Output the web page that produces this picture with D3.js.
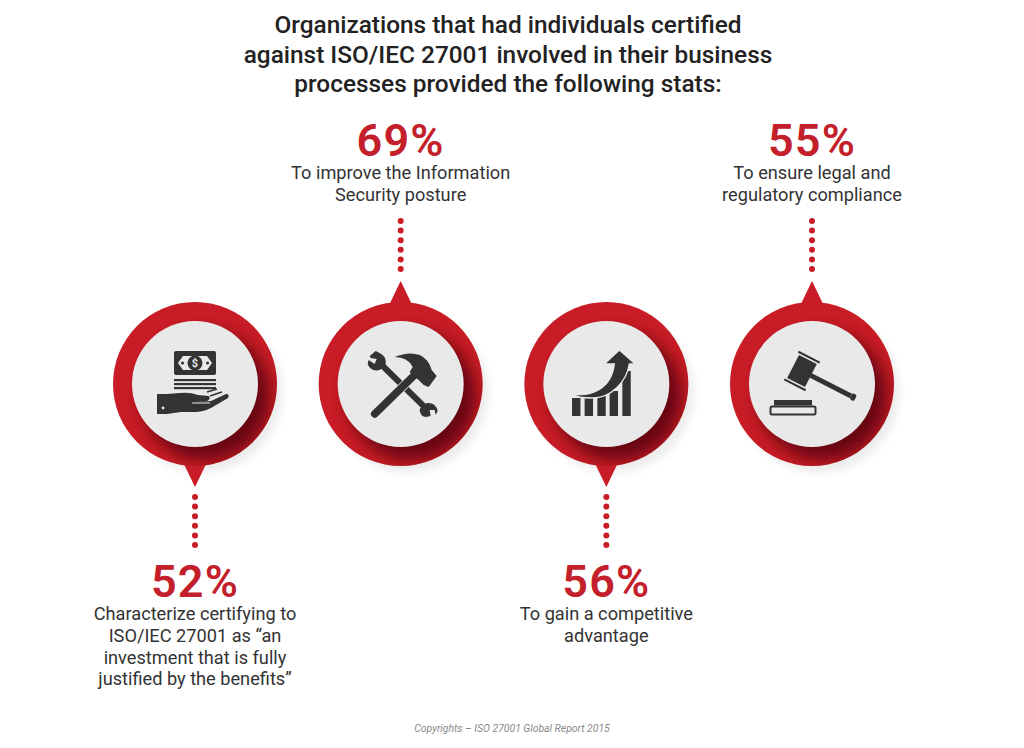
<!DOCTYPE html>
<html>
<head>
<meta charset="utf-8">
<title>ISO/IEC 27001 stats</title>
<script src="https://cdn.jsdelivr.net/npm/d3@7/dist/d3.min.js"></script>
<style>
  html, body { margin: 0; padding: 0; background: #fff; }
  svg { display: block; }
  text { font-family: Roboto, sans-serif; }
</style>
</head>
<body>
<div id="chart"></div>
<script>
// values
var titleLines = [
  "Organizations that had individuals certified",
  "against ISO/IEC 27001 involved in their business",
  "processes provided the following stats:"
];
var categories = ["money", "tools", "growth", "law"];
var percents = [52, 69, 56, 55];
var placement = ["below", "above", "below", "above"];
var labels = [
  ["Characterize certifying to", "ISO/IEC 27001 as \u201can", "investment that is fully", "justified by the benefits\u201d"],
  ["To improve the Information", "Security posture"],
  ["To gain a competitive", "advantage"],
  ["To ensure legal and", "regulatory compliance"]
];
var credit = "Copyrights \u2013 ISO 27001 Global Report 2015";

var width = 1024, height = 748;
var red = "#c81c26", textRed = "#c3202b", dark = "#333333", disc = "#e9e9e9";
var ringR = 82, discR = 63, midY = 384;

var x = d3.scalePoint().domain(categories).range([195, 812]);
var dotIndex = d3.range(6);

var svg = d3.select("#chart").append("svg")
  .attr("width", width)
  .attr("height", height);

var defs = svg.append("defs");
defs.append("filter").attr("id", "blurBig")
  .attr("x", "-30%").attr("y", "-30%").attr("width", "160%").attr("height", "160%")
  .append("feGaussianBlur").attr("stdDeviation", 8);
defs.append("filter").attr("id", "blurSoft")
  .attr("x", "-30%").attr("y", "-30%").attr("width", "160%").attr("height", "160%")
  .append("feGaussianBlur").attr("stdDeviation", 5);
defs.append("clipPath").attr("id", "ringClip")
  .append("circle").attr("r", ringR);

// title
svg.append("g").selectAll("text")
  .data(titleLines)
  .enter().append("text")
  .attr("x", 508)
  .attr("y", function(d, i) { return 33 + i * 29.5; })
  .attr("text-anchor", "middle")
  .attr("font-size", 24.4)
  .attr("font-weight", 500)
  .attr("fill", "#222")
  .text(function(d) { return d; });

var rows = categories.map(function(c, i) {
  return { name: c, percent: percents[i], side: placement[i], label: labels[i] };
});

var stat = svg.selectAll(".stat")
  .data(rows)
  .enter().append("g")
  .attr("class", "stat")
  .attr("transform", function(d) { return "translate(" + x(d.name) + "," + midY + ")"; });

// soft shadow outside the ring
stat.append("circle")
  .attr("cx", 7).attr("cy", 8).attr("r", ringR - 2)
  .attr("fill", "#000").attr("opacity", 0.08)
  .attr("filter", "url(#blurSoft)");

// pointer
stat.append("path")
  .attr("d", function(d) {
    return d.side == "above" ? "M-12,-78 L-1,-101 L0,-103 L1,-101 L12,-78 Z" : "M-12,78 L-1,101 L0,103 L1,101 L12,78 Z";
  })
  .attr("fill", red);

// ring
stat.append("circle").attr("r", ringR).attr("fill", red);

// dark crescent under the disc
stat.append("g").attr("clip-path", "url(#ringClip)")
  .append("circle")
  .attr("cx", 11).attr("cy", 12).attr("r", discR + 1)
  .attr("fill", "#4f0507").attr("opacity", 0.8)
  .attr("filter", "url(#blurBig)");

stat.append("circle").attr("r", discR).attr("fill", disc);

// dotted connector
stat.selectAll(".dot")
  .data(function(d) {
    return dotIndex.map(function(k) { return { k: k, side: d.side }; });
  })
  .enter().append("circle")
  .attr("class", "dot")
  .attr("cy", function(d) {
    return d.side == "above" ? -115 - d.k * 9.6 : 113 + d.k * 9.6;
  })
  .attr("r", 3)
  .attr("fill", red);

// icons, drawn around the disc centre
var icons = {
  money: function(g) {
    g.append("rect").attr("x", -21).attr("y", -33).attr("width", 42).attr("height", 24).attr("rx", 2).attr("fill", dark);
    g.append("path").attr("d", "M-17,-21 L-12,-28 L12,-28 L17,-21 L12,-14 L-12,-14 Z").attr("fill", disc);
    g.append("circle").attr("cy", -21).attr("r", 7.5).attr("fill", dark);
    g.append("circle").attr("cx", -12.5).attr("cy", -21).attr("r", 1.6).attr("fill", dark);
    g.append("circle").attr("cx", 12.5).attr("cy", -21).attr("r", 1.6).attr("fill", dark);
    g.append("text").attr("y", -17).attr("text-anchor", "middle").attr("font-size", 11).attr("font-weight", 700).attr("fill", disc).text("$");
    [-5, -1, 3].forEach(function(y) {
      g.append("rect").attr("x", -21).attr("y", y).attr("width", 42).attr("height", 2.2).attr("fill", dark);
    });
    g.append("path")
      .attr("d", "M-38,10 L-28,10 L-15,9 Q-5,8 3,11 L14,12 Q16,15 12,17 L-2,18 L16,17 L31,10 Q35,10 33,14 L16,24 Q8,28 0,28 L-14,28 L-28,30 L-38,30 Q-38,20 -38,10 Z")
      .attr("fill", dark);
    g.append("path").attr("d", "M-3,19 L15,19").attr("stroke", disc).attr("stroke-width", 1).attr("fill", "none");
    g.append("path").attr("d", "M12,8 L22,5 M15,12 L27,8").attr("stroke", dark).attr("stroke-width", 1.6).attr("fill", "none");
    g.append("circle").attr("cx", -32).attr("cy", 24).attr("r", 1.4).attr("fill", disc);
  },
  tools: function(g) {
    // wrench
    g.append("path").attr("d", "M-23,-23 L28,27").attr("stroke", dark).attr("stroke-width", 6).attr("fill", "none");
    g.append("path")
      .attr("d", "M-25,-33 L-31,-28 L-30,-26 L-24,-25 L-26,-20 L-32,-24 L-33,-20 Q-30,-12 -21,-14 L-15,-19 Q-14,-28 -21,-31 Z")
      .attr("fill", dark);
    g.append("path")
      .attr("d", "M25,33 L30,32 L29,26 L34,26 L35,31 L37,27 Q35,18 26,19 L19,25 Q19,32 25,33 Z")
      .attr("fill", dark);
    // light gap where the handles cross
    g.append("path").attr("d", "M-26,30 L16,-11").attr("stroke", disc).attr("stroke-width", 9).attr("fill", "none");
    // hammer
    g.append("path").attr("d", "M-26,30 L18,-13").attr("stroke", dark).attr("stroke-width", 7.5).attr("stroke-linecap", "round").attr("fill", "none");
    g.append("path")
      .attr("d", "M-6,-27 Q8,-33 19,-29 Q28,-25 31,-14 L36,-8 L28,3 L23,1 L18,-4 L14,-7 L9,-12 L12,-17 Q7,-27 -6,-27 Z")
      .attr("fill", dark);
  },
  growth: function(g) {
    var bars = [[-34.3, 14], [-21.7, 14], [-9, 12], [3.3, 7], [16, -13]];
    bars.forEach(function(b) {
      g.append("rect").attr("x", b[0]).attr("y", b[1]).attr("width", 8.4).attr("height", 32 - b[1]).attr("fill", dark);
    });
    g.append("path")
      .attr("d", "M-34,10 C-15,13 5,5 8,-20 L-2,-20 L13,-34 L29,-20 L23,-20 C20,-2 5,14 -14,14 C-22,14 -30,13 -34,10 Z")
      .attr("fill", dark)
      .attr("stroke", disc)
      .attr("stroke-width", 1.4);
  },
  law: function(g) {
    var head = g.append("g").attr("transform", "translate(-10,-13) rotate(27)");
    head.append("rect").attr("x", 8).attr("y", -2.5).attr("width", 47).attr("height", 5).attr("fill", dark);
    head.append("rect").attr("x", 55).attr("y", -3.5).attr("width", 5).attr("height", 7).attr("rx", 2).attr("fill", dark);
    head.append("rect").attr("x", -10).attr("y", -13).attr("width", 20).attr("height", 26).attr("fill", dark);
    head.append("rect").attr("x", -12).attr("y", -16.5).attr("width", 24).attr("height", 2).attr("fill", dark);
    head.append("rect").attr("x", -12).attr("y", 14.5).attr("width", 24).attr("height", 2).attr("fill", dark);
    g.append("rect").attr("x", -38).attr("y", 16).attr("width", 38).attr("height", 5.5).attr("fill", dark);
    g.append("rect").attr("x", -41.5).attr("y", 22.5).attr("width", 45).attr("height", 8).attr("rx", 1.5).attr("fill", "none").attr("stroke", dark).attr("stroke-width", 2);
  }
};
stat.each(function(d) {
  icons[d.name](d3.select(this).append("g").attr("class", "icon"));
});

// numbers and captions
var block = svg.selectAll(".block")
  .data(rows)
  .enter().append("g")
  .attr("class", "block")
  .attr("transform", function(d) {
    return "translate(" + x(d.name) + "," + (d.side == "above" ? 156 : 597) + ")";
  });

block.append("text")
  .attr("text-anchor", "middle")
  .attr("font-size", 45)
  .attr("font-weight", 600)
  .attr("letter-spacing", 1.2)
  .attr("fill", textRed)
  .text(function(d) { return d.percent + "%"; });

block.selectAll(".caption")
  .data(function(d) { return d.label; })
  .enter().append("text")
  .attr("class", "caption")
  .attr("text-anchor", "middle")
  .attr("y", function(d, i) { return 23 + i * 21.8; })
  .attr("font-size", 18.2)
  .attr("fill", dark)
  .text(function(d) { return d; });

svg.append("text")
  .attr("x", 512)
  .attr("y", 732)
  .attr("text-anchor", "middle")
  .attr("font-size", 10.4)
  .attr("font-style", "italic")
  .attr("fill", "#8a8a8a")
  .text(credit);
</script>
</body>
</html>
